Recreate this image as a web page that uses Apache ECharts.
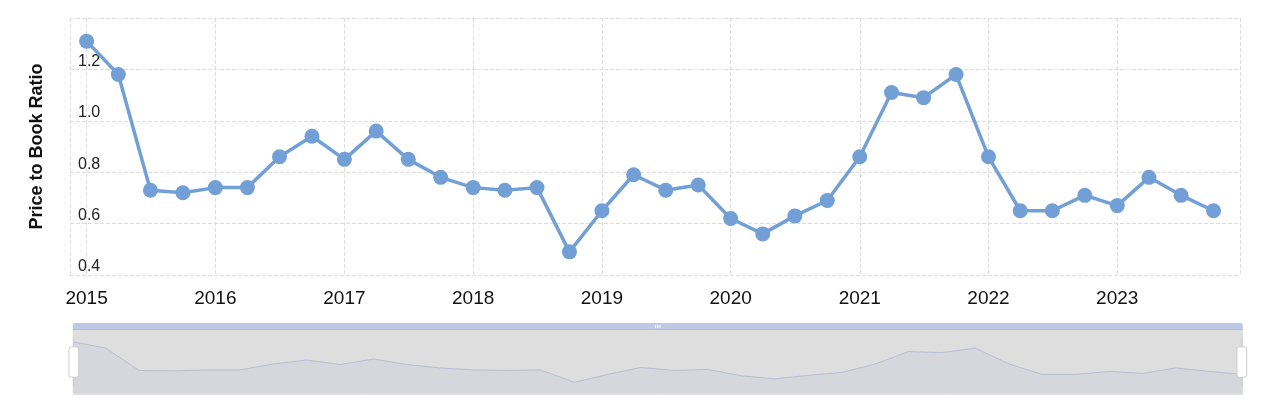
<!DOCTYPE html>
<html><head><meta charset="utf-8">
<script src="https://cdn.jsdelivr.net/npm/echarts@6/dist/echarts.min.js"></script>
<style>html,body{margin:0;background:#fff}#c{width:1280px;height:414px}</style></head>
<body><div id="c"></div>
<script>
const dates=[];for(let y=2015;y<=2023;y++)for(const m of ['01','04','07','10'])dates.push(y+'-'+m+'-01');
const values=[1.31,1.18,0.73,0.72,0.74,0.74,0.86,0.94,0.85,0.96,0.85,0.78,0.74,0.73,0.74,0.49,0.65,0.79,0.73,0.75,0.62,0.56,0.63,0.69,0.86,1.11,1.09,1.18,0.86,0.65,0.65,0.71,0.67,0.78,0.71,0.65];
const data=dates.map((d,i)=>[d,values[i]]);
const ch=echarts.init(document.getElementById('c'));
ch.setOption({
 animation:false,
 grid:{left:70,right:40,top:18,bottom:139},
 xAxis:{type:'time',min:'2014-11-15',max:'2023-12-15',
  axisLine:{show:false},axisTick:{show:false},
  splitLine:{show:true,lineStyle:{type:'dashed',color:'#ddd'}},
  axisLabel:{fontSize:19,color:'#111',margin:14,formatter:function(v){const d=new Date(v);return d.getMonth()===0?String(d.getFullYear()):'';}},
  minInterval:365*24*3600*1000,splitNumber:9},
 yAxis:{type:'value',min:0.4,max:1.4,interval:0.2,
  name:'Price to Book Ratio',nameLocation:'middle',nameGap:24,nameTextStyle:{fontSize:18,fontWeight:'bold',color:'#111'},
  axisLabel:{inside:true,fontSize:16,color:'#222',verticalAlign:'bottom',formatter:function(v){return v>=1.39?'':v.toFixed(1);}},
  splitLine:{lineStyle:{type:'dashed',color:'#ddd'}},axisLine:{show:false},axisTick:{show:false}},
 dataZoom:[{type:'slider',xAxisIndex:0,left:70,right:40,top:323,height:65,start:0,end:100,
  backgroundColor:'#e8e8e8',fillerColor:'rgba(200,200,200,0.3)',borderColor:'#ddd',
  dataBackground:{lineStyle:{opacity:0},areaStyle:{color:'#888',opacity:1}},
  handleSize:'75%',handleStyle:{color:'#fff',borderColor:'#ccc'},
  showDetail:false}],
 series:[{type:'line',data:data,symbol:'circle',symbolSize:15,
  lineStyle:{color:'#729fd6',width:3.5},itemStyle:{color:'#729fd6'}}]
});
</script></body></html>
